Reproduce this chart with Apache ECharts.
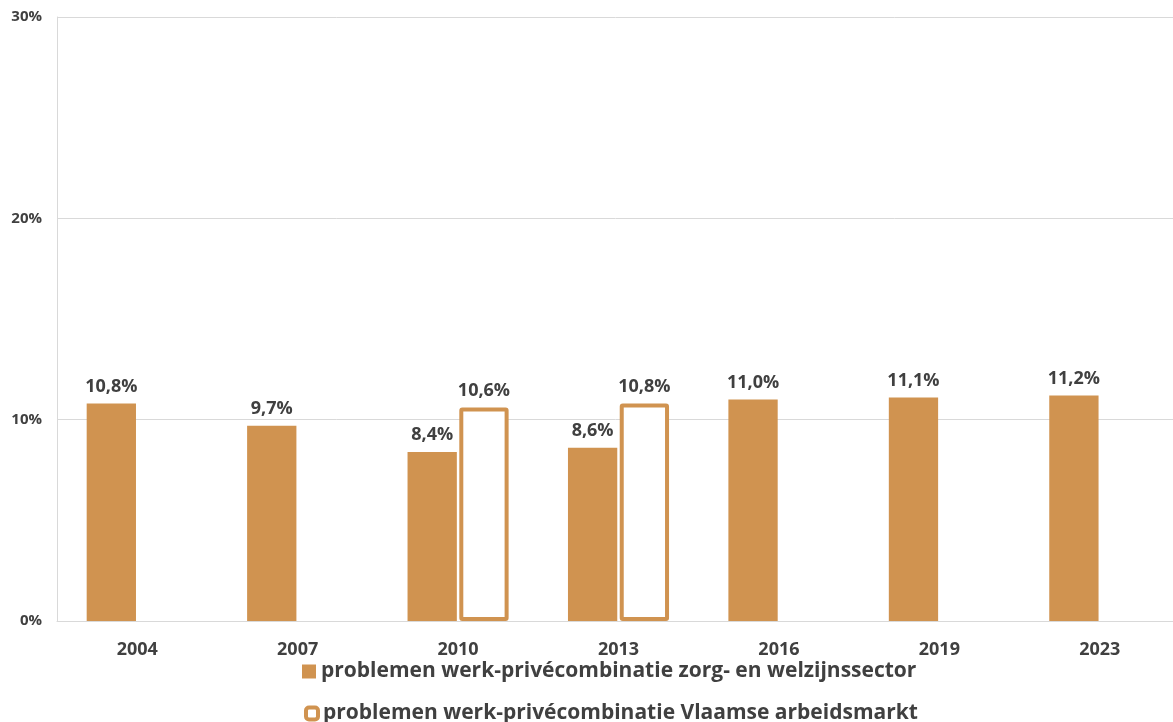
<!DOCTYPE html>
<html>
<head>
<meta charset="utf-8">
<script src="https://cdn.jsdelivr.net/npm/echarts@6/dist/echarts.min.js"></script>
<style>
  html, body { margin: 0; padding: 0; background: #fff; }
  #chart { width: 1173px; height: 722px; }
</style>
</head>
<body>
<div id="chart"></div>
<script>
// Survey years
const years = ['2004', '2007', '2010', '2013', '2016', '2019', '2023'];
// Share reporting work-life balance problems (%)
const zorgWelzijn = [10.8, 9.7, 8.4, 8.6, 11.0, 11.1, 11.2];
const vlaamseArbeidsmarkt = [null, null, 10.6, 10.8, null, null, null];
const seriesNames = [
  'problemen werk-privécombinatie zorg- en welzijnssector',
  'problemen werk-privécombinatie Vlaamse arbeidsmarkt'
];
const yTicks = [0, 10, 20, 30];

const ORANGE = '#D09350';
const TEXT = '#404040';
const FONT = '"Open Sans", "Noto Sans", sans-serif';

const fmt = v => v.toFixed(1).replace('.', ',') + '%';

const legendText = { fontFamily: FONT, fontSize: 21, fontWeight: 'bold', color: TEXT };

const chart = echarts.init(document.getElementById('chart'));
chart.setOption({
  animation: false,
  textStyle: { fontFamily: FONT },
  // plot area runs a few pixels past the right edge of the canvas
  grid: { left: 57, width: 1123, top: 17, height: 604, outerBoundsMode: 'none' },
  legend: [
    {
      left: 297, top: 656,
      itemWidth: 14, itemHeight: 14, itemGap: 5,
      selectedMode: false,
      textStyle: legendText,
      data: [{ name: seriesNames[0], icon: 'rect', itemStyle: { color: ORANGE } }]
    },
    {
      left: 299, top: 698,
      itemWidth: 12, itemHeight: 12,
      selectedMode: false,
      textStyle: legendText,
      data: [{ name: seriesNames[1], icon: 'roundRect', itemStyle: { color: '#fff', borderColor: ORANGE, borderWidth: 4 } }]
    }
  ],
  xAxis: {
    type: 'category',
    data: years,
    axisTick: { show: false },
    axisLine: { lineStyle: { color: '#d9d9d9', width: 1 } },
    axisLabel: { color: TEXT, fontSize: 18, fontWeight: 'bold', margin: 20, fontFamily: FONT }
  },
  yAxis: {
    type: 'value',
    min: yTicks[0],
    max: yTicks[yTicks.length - 1],
    interval: yTicks[1] - yTicks[0],
    axisLine: { show: true, lineStyle: { color: '#d9d9d9', width: 1 } },
    axisTick: { show: false },
    splitLine: { lineStyle: { color: '#d9d9d9', width: 1 } },
    axisLabel: { color: TEXT, fontSize: 15, fontWeight: 'bold', margin: 15, formatter: '{value}%', fontFamily: FONT }
  },
  series: [
    {
      name: seriesNames[0],
      type: 'bar',
      data: zorgWelzijn,
      barGap: '5%',
      barCategoryGap: '37%',
      itemStyle: { color: ORANGE },
      label: {
        show: true, position: 'top', distance: 8,
        color: TEXT, fontSize: 18, fontWeight: 'bold', fontFamily: FONT,
        formatter: p => fmt(p.value)
      }
    },
    {
      name: seriesNames[1],
      type: 'bar',
      data: vlaamseArbeidsmarkt,
      itemStyle: { color: '#fff', borderColor: ORANGE, borderWidth: 4, borderRadius: 1 },
      label: {
        show: true, position: 'top', distance: 8,
        color: TEXT, fontSize: 18, fontWeight: 'bold', fontFamily: FONT,
        formatter: p => p.value == null ? '' : fmt(p.value)
      }
    }
  ]
});
</script>
</body>
</html>
